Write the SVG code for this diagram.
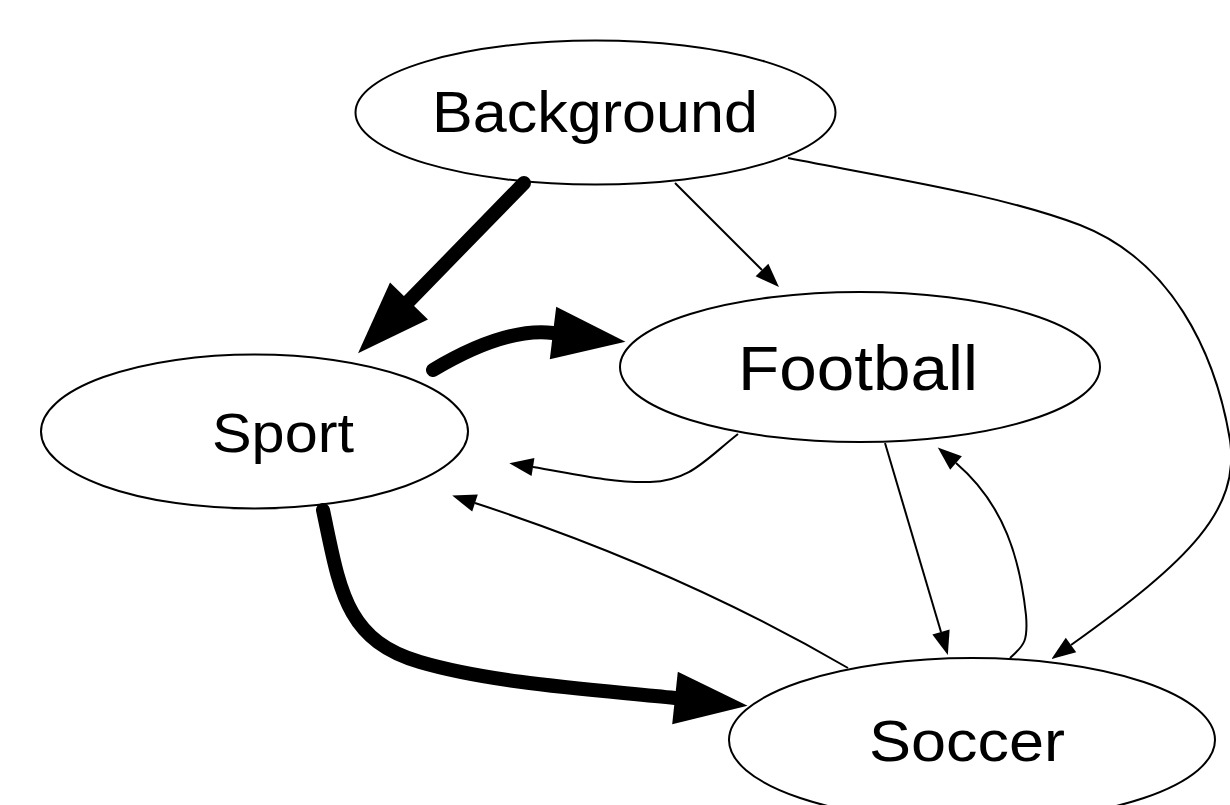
<svg xmlns="http://www.w3.org/2000/svg" width="1230" height="805" viewBox="0 0 1230 805">
<style>
.node ellipse{fill:#fff;stroke:#000;stroke-width:2}
.node text{font-family:"Liberation Sans",Arial,sans-serif;fill:#000;text-anchor:middle}
.thin{fill:none;stroke:#000;stroke-width:2;marker-end:url(#ah)}
.thick{fill:none;stroke:#000;stroke-width:14;stroke-linecap:round;marker-end:url(#AH)}
</style>
<defs>
<marker id="ah" markerUnits="userSpaceOnUse" viewBox="0 0 24 18" refX="0" refY="9" markerWidth="24" markerHeight="18" orient="auto" overflow="visible">
<path d="M0,0 L24,9 L0,18 z" fill="#000"/>
</marker>
<marker id="AH" markerUnits="userSpaceOnUse" viewBox="0 0 73 53" refX="0" refY="26.5" markerWidth="73" markerHeight="53" orient="auto" overflow="visible">
<path d="M0,0 L73,26.5 L0,53 z" fill="#000"/>
</marker>
</defs>
<rect width="1230" height="805" fill="#fff"/>
<g id="background" class="node">
<ellipse cx="595.5" cy="112.5" rx="240" ry="72"/>
<text x="595" y="132" font-size="57" textLength="326" lengthAdjust="spacingAndGlyphs">Background</text>
</g>
<g id="sport" class="node">
<ellipse cx="254.5" cy="431.5" rx="213.5" ry="77"/>
<text x="283" y="452" font-size="56" textLength="142" lengthAdjust="spacingAndGlyphs">Sport</text>
</g>
<g id="football" class="node">
<ellipse cx="860" cy="367" rx="240" ry="75"/>
<text x="858" y="390" font-size="63" textLength="240" lengthAdjust="spacingAndGlyphs">Football</text>
</g>
<g id="soccer" class="node">
<ellipse cx="972" cy="740" rx="243" ry="82"/>
<text x="967" y="761" font-size="58" textLength="196" lengthAdjust="spacingAndGlyphs">Soccer</text>
</g>
<g id="edges">
<path class="thick" d="M524,183 L409,301"/>
<path class="thick" d="M433,370 C480,342 520,329 553,333"/>
<path class="thick" d="M323,510 C340,590 345,640 420,662 S600,690 675,698"/>
<path class="thin" d="M675,183 L762,270"/>
<path class="thin" d="M738,434 C705,460 690,481 650,482 C610,483 570,473 533,467"/>
<path class="thin" d="M848,668 Q680,570 475,503"/>
<path class="thin" d="M885,443 L941,632"/>
<path class="thin" d="M1010,658 C1025,645 1028,640 1026,615 C1020,560 1005,505 956,463"/>
<path class="thin" d="M788,158 C900,180 1000,195 1080,225 C1170,260 1215,350 1230,440 C1240,510 1190,560 1071,645"/>
</g>
</svg>
